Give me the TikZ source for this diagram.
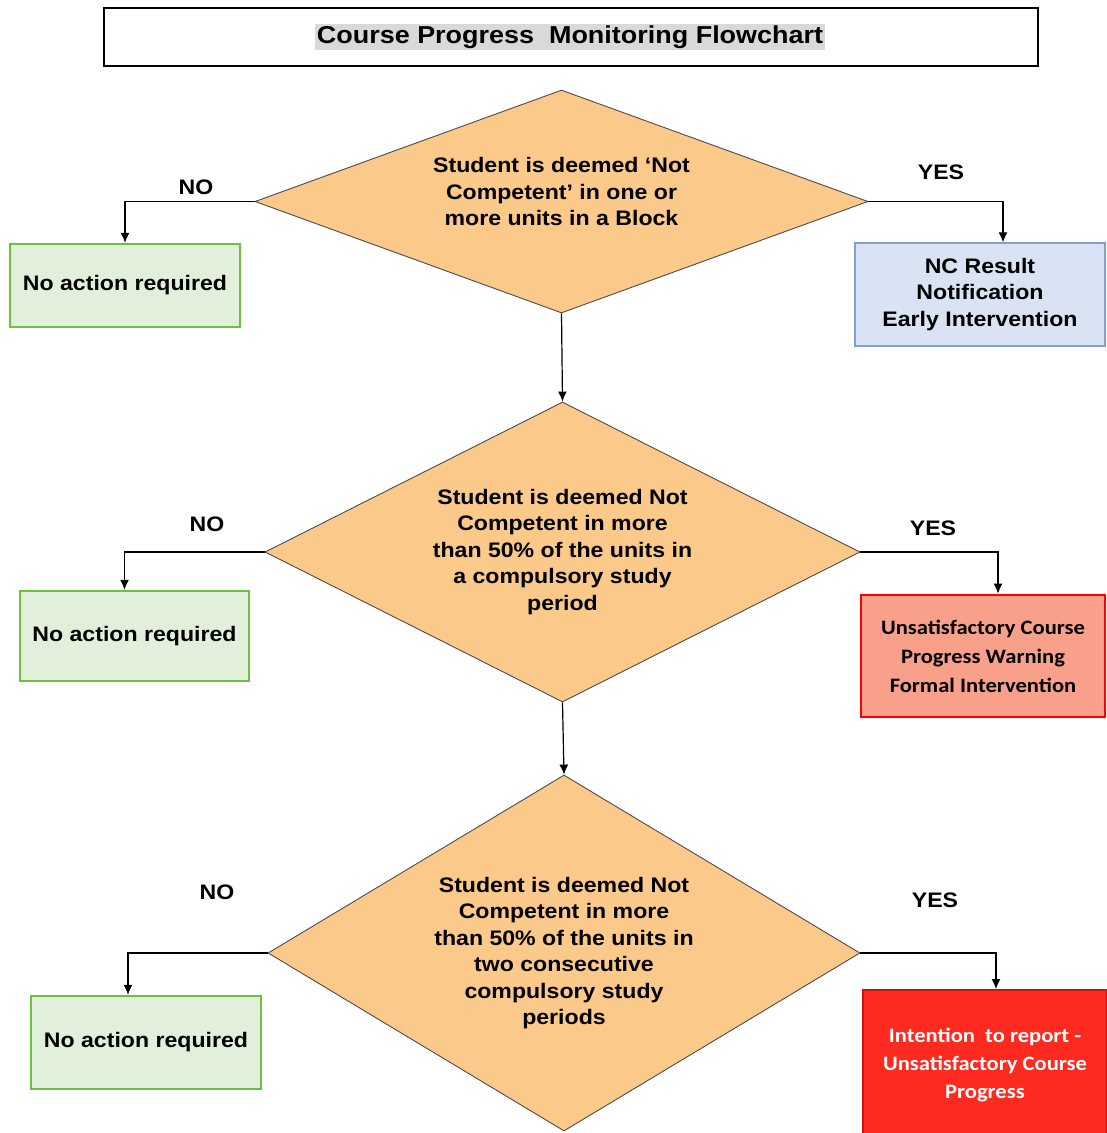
\documentclass[tikz,border=0pt]{standalone}
\usepackage{fontspec}
\usetikzlibrary{shapes.geometric,arrows.meta}
\newfontfamily\arialf[FakeStretch=1.1]{Liberation Sans}
\newfontfamily\calf[FakeStretch=1.1]{Carlito}
\definecolor{dfill}{HTML}{FBC98A}
\definecolor{gfill}{HTML}{E2EFDA}
\definecolor{gborder}{HTML}{6CC040}
\definecolor{bfill}{HTML}{DAE3F3}
\definecolor{bborder}{HTML}{7F9FD6}
\definecolor{sfill}{HTML}{F8A08A}
\definecolor{rfill}{HTML}{FF2A1F}
\definecolor{rborder}{HTML}{C8140F}
\definecolor{tgray}{HTML}{D9D9D9}
\begin{document}
\begin{tikzpicture}[x=1pt,y=-1pt,
  dia/.style={shape=diamond, draw=black!70, line width=0.9pt, fill=dfill, inner sep=0pt, align=center,
    font=\arialf\bfseries\fontsize{21}{26.5}\selectfont},
  greenbox/.style={draw=gborder, line width=2.5pt, fill=gfill, inner sep=0pt, align=center,
    font=\arialf\bfseries\fontsize{21}{25}\selectfont},
  bluebox/.style={draw=bborder, line width=1.4pt, fill=bfill, inner sep=0pt, align=center,
    font=\arialf\bfseries\fontsize{21}{26.5}\selectfont},
  salmonbox/.style={draw=red, line width=2.8pt, fill=sfill, inner sep=0pt, align=center,
    font=\calf\bfseries\fontsize{20.5}{29}\selectfont},
  redbox/.style={draw=rborder, line width=2pt, fill=rfill, inner sep=0pt, align=center, text=white,
    font=\calf\bfseries\fontsize{20.5}{28}\selectfont},
  lbl/.style={font=\arialf\bfseries\fontsize{21}{25}\selectfont, inner sep=0pt},
  conn/.style={line width=1.2pt, -{Latex[length=10pt,width=9pt]}}
]
\useasboundingbox (0,0) rectangle (1107,1133);

% title
\node[draw, line width=2.5pt, minimum width=934pt, minimum height=58pt, inner sep=0pt] (titlebox) at (571,37) {};
\node[fill=tgray, inner sep=2pt, font=\arialf\bfseries\fontsize{24.5}{28}\selectfont] (title) at (570,37) {Course Progress\ \ Monitoring Flowchart};

% decisions
\node[dia, aspect=2.749, minimum width=613pt, minimum height=223pt] (d1) at (561.5,201.5)
  {Student is deemed ‘Not\\Competent’ in one or\\more units in a Block\\[-6.5pt]\mbox{}};
\node[dia, aspect=1.983, minimum width=595pt, minimum height=300pt] (d2) at (562.5,552)
  {Student is deemed Not\\Competent in more\\than 50\% of the units in\\a compulsory study\\period};
\node[dia, aspect=1.663, minimum width=592pt, minimum height=356pt] (d3) at (564,953)
  {Student is deemed Not\\Competent in more\\than 50\% of the units in\\two consecutive\\compulsory study\\periods};

% outcome boxes
\node[greenbox, minimum width=230pt, minimum height=83pt] (n1) at (125,285.5) {No action required};
\node[greenbox, minimum width=229pt, minimum height=90pt] (n2) at (134.5,636) {No action required};
\node[greenbox, minimum width=230pt, minimum height=93pt] (n3) at (146,1042.5) {No action required};

\node[bluebox, minimum width=250pt, minimum height=103pt] (nc) at (980,294.5)
  {NC Result\\Notification\\Early Intervention};
\node[salmonbox, minimum width=244pt, minimum height=122pt] (r1) at (983,656)
  {Unsatisfactory Course\\Progress Warning\\Formal Intervention};
\node[redbox, minimum width=244pt, minimum height=150pt] (r2) at (985,1065)
  {Intention\ \ to report -\\Unsatisfactory Course\\Progress};

% labels
\node[lbl] (no1) at (196,187) {NO};
\node[lbl] (yes1) at (941,172) {YES};
\node[lbl] (no2) at (207,524) {NO};
\node[lbl] (yes2) at (933,528) {YES};
\node[lbl] (no3) at (217,892) {NO};
\node[lbl] (yes3) at (935,900) {YES};

% connectors
\draw[conn] (d1.west) -| (n1.north);
\draw[conn] (d1.east) -| ([xshift=23pt]nc.north);
\draw[conn] (d1.south) -- (d2.north);
\draw[conn] (d2.west) -| ([xshift=-10pt]n2.north);
\draw[conn] (d2.east) -| ([xshift=15pt]r1.north);
\draw[conn] (d2.south) -- (d3.north);
\draw[conn] (d3.west) -| ([xshift=-18pt]n3.north);
\draw[conn] (d3.east) -| ([xshift=11pt]r2.north);
\end{tikzpicture}
\end{document}
